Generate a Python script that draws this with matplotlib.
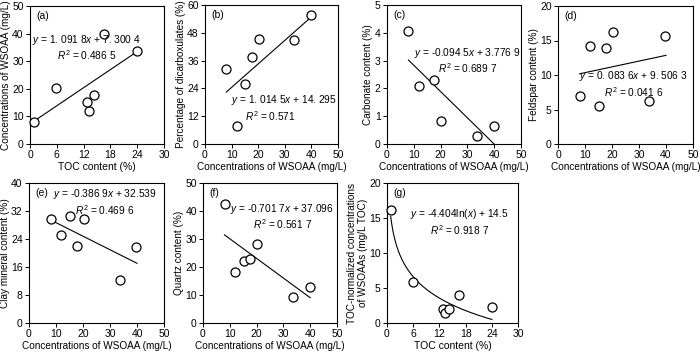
import numpy as np
import matplotlib
matplotlib.use("Agg")
import matplotlib.pyplot as plt

plt.rcParams["font.family"] = ["Liberation Sans", "DejaVu Sans"]
plt.rcParams["mathtext.fontset"] = "custom"
plt.rcParams["mathtext.rm"] = "Liberation Sans"
plt.rcParams["mathtext.it"] = "Liberation Sans:italic"
plt.rcParams["font.size"] = 7.2

# data
wsoaa = [8.0, 12.0, 15.2, 17.6, 20.2, 33.6, 39.8]
toc = [0.8, 13.3, 12.8, 14.3, 5.8, 24.0, 16.6]
dicarbox = [32.2, 7.6, 25.8, 37.5, 45.5, 44.7, 55.5]
carb_x = [8.0, 12.0, 17.6, 20.2, 33.6, 39.8]
carbonate = [4.08, 2.07, 2.3, 0.83, 0.27, 0.66]
feldspar = [7.0, 14.2, 5.5, 13.9, 16.2, 6.2, 15.7]
clay = [29.8, 25.2, 30.7, 22.0, 29.6, 12.2, 21.8]
quartz_x = [8.3, 12.0, 15.2, 17.6, 20.2, 33.6, 39.8]
quartz = [42.5, 18.2, 22.2, 23.0, 28.2, 9.3, 13.0]
g_toc = [1.0, 5.9, 12.8, 13.3, 14.3, 16.6, 24.0]
g_norm = [16.1, 5.8, 2.0, 1.4, 2.0, 4.0, 2.3]

xlab_w = "Concentrations of WSOAA (mg/L)"
xlab_t = "TOC content (%)"

W, H = 700, 352
fig = plt.figure(figsize=(7, 3.52), dpi=100)

def mkax(l, t, r, b):
    return fig.add_axes([l / W, 1 - b / H, (r - l) / W, (b - t) / H])

def style(ax, xt, yt):
    ax.set_xlim(xt[0], xt[-1]); ax.set_ylim(yt[0], yt[-1])
    ax.set_xticks(xt); ax.set_yticks(yt)
    ax.tick_params(length=3, width=0.7, pad=1.5, labelsize=7.5)
    for s in ax.spines.values():
        s.set_linewidth(0.8)

def pts(ax, x, y):
    ax.plot(x, y, "o", ms=6.5, mfc="white", mec="black", mew=0.9, ls="none", clip_on=False, zorder=3)

def lin(ax, a, b, x0, x1):
    xs = np.array([x0, x1])
    ax.plot(xs, a * xs + b, color="black", lw=0.8)

def eq(ax, l1, l2, x, y, align="center"):
    # two-line equation block, (x, y) = centre of the block in axes fraction
    ax.text(x, y, l1 + "\n" + l2, transform=ax.transAxes, ha="center", va="center",
            multialignment=align, fontsize=7.3, linespacing=1.15)

def tag(ax, s):
    ax.text(0.05, 0.93, s, transform=ax.transAxes, ha="left", va="center", fontsize=7.5)

# (a)
ax = mkax(30, 6, 164, 144)
style(ax, [0, 6, 12, 18, 24, 30], [0, 10, 20, 30, 40, 50])
lin(ax, 1.0918, 7.3004, 0.8, 24)
pts(ax, toc, wsoaa)
eq(ax, "$y$ = 1. 091 8$x$ + 7. 300 4", "$R^2$ = 0.486 5", 0.42, 0.70)
tag(ax, "(a)")
ax.set_xlabel(xlab_t, labelpad=1, fontsize=7.5)
ax.set_ylabel("Concentrations of WSOAA (mg/L)", labelpad=1)

# (b)
ax = mkax(205, 5, 338, 144)
style(ax, [0, 10, 20, 30, 40, 50], [0, 12, 24, 36, 48, 60])
lin(ax, 1.0145, 14.295, 8, 40)
pts(ax, wsoaa, dicarbox)
eq(ax, "$y$ = 1. 014 5$x$ + 14. 295", "     $R^2$ = 0.571", 0.59, 0.26, align="left")
tag(ax, "(b)")
ax.set_xlabel(xlab_w, labelpad=1)
ax.set_ylabel("Percentage of dicarboxulates (%)", labelpad=1)

# (c)
ax = mkax(387, 5, 521, 144)
style(ax, [0, 10, 20, 30, 40, 50], [0, 1, 2, 3, 4, 5])
lin(ax, -0.0945, 3.7769, 8, 40)
pts(ax, carb_x, carbonate)
eq(ax, "$y$ = -0.094 5$x$ + 3.776 9", "$R^2$ = 0.689 7", 0.60, 0.60)
tag(ax, "(c)")
ax.set_xlabel(xlab_w, labelpad=1)
ax.set_ylabel("Carbonate content (%)", labelpad=1)

# (d)
ax = mkax(558, 6, 693, 144)
style(ax, [0, 10, 20, 30, 40, 50], [0, 5, 10, 15, 20])
lin(ax, 0.0836, 9.5063, 8, 40)
pts(ax, wsoaa, feldspar)
eq(ax, "$y$ = 0. 083 6$x$ + 9. 506 3", "$R^2$ = 0.041 6", 0.56, 0.435)
tag(ax, "(d)")
ax.set_xlabel(xlab_w, labelpad=1)
ax.set_ylabel("Feldspar content (%)", labelpad=1)

# (e)
ax = mkax(29, 183, 164, 323)
style(ax, [0, 10, 20, 30, 40, 50], [0, 8, 16, 24, 32, 40])
lin(ax, -0.3869, 32.539, 8, 40)
pts(ax, wsoaa, clay)
eq(ax, "$y$ = -0.386 9$x$ + 32.539", "$R^2$ = 0.469 6", 0.56, 0.865)
tag(ax, "(e)")
ax.set_xlabel(xlab_w, labelpad=1)
ax.set_ylabel("Clay mineral content (%)", labelpad=1)

# (f)
ax = mkax(203, 183, 337, 323)
style(ax, [0, 10, 20, 30, 40, 50], [0, 10, 20, 30, 40, 50])
lin(ax, -0.7017, 37.096, 8, 40)
pts(ax, quartz_x, quartz)
eq(ax, "$y$ = -0.701 7$x$ + 37.096", "$R^2$ = 0.561 7", 0.59, 0.76)
tag(ax, "(f)")
ax.set_xlabel(xlab_w, labelpad=1)
ax.set_ylabel("Quartz content (%)", labelpad=1)

# (g)
ax = mkax(387, 183, 518, 323)
style(ax, [0, 6, 12, 18, 24, 30], [0, 5, 10, 15, 20])
xs = np.linspace(0.85, 24, 200)
ax.plot(xs, -4.404 * np.log(xs) + 14.5, color="black", lw=0.8)
pts(ax, g_toc, g_norm)
eq(ax, "$y$ = -4.404ln($x$) + 14.5", "$R^2$ = 0.918 7", 0.55, 0.72)
tag(ax, "(g)")
ax.set_xlabel(xlab_t, labelpad=1, fontsize=7.5)
ax.set_ylabel("TOC-normalized concentrations\nof WSOAAs (mg/L TOC)", labelpad=1, linespacing=1.1)

fig.savefig("out.png", dpi=100)
